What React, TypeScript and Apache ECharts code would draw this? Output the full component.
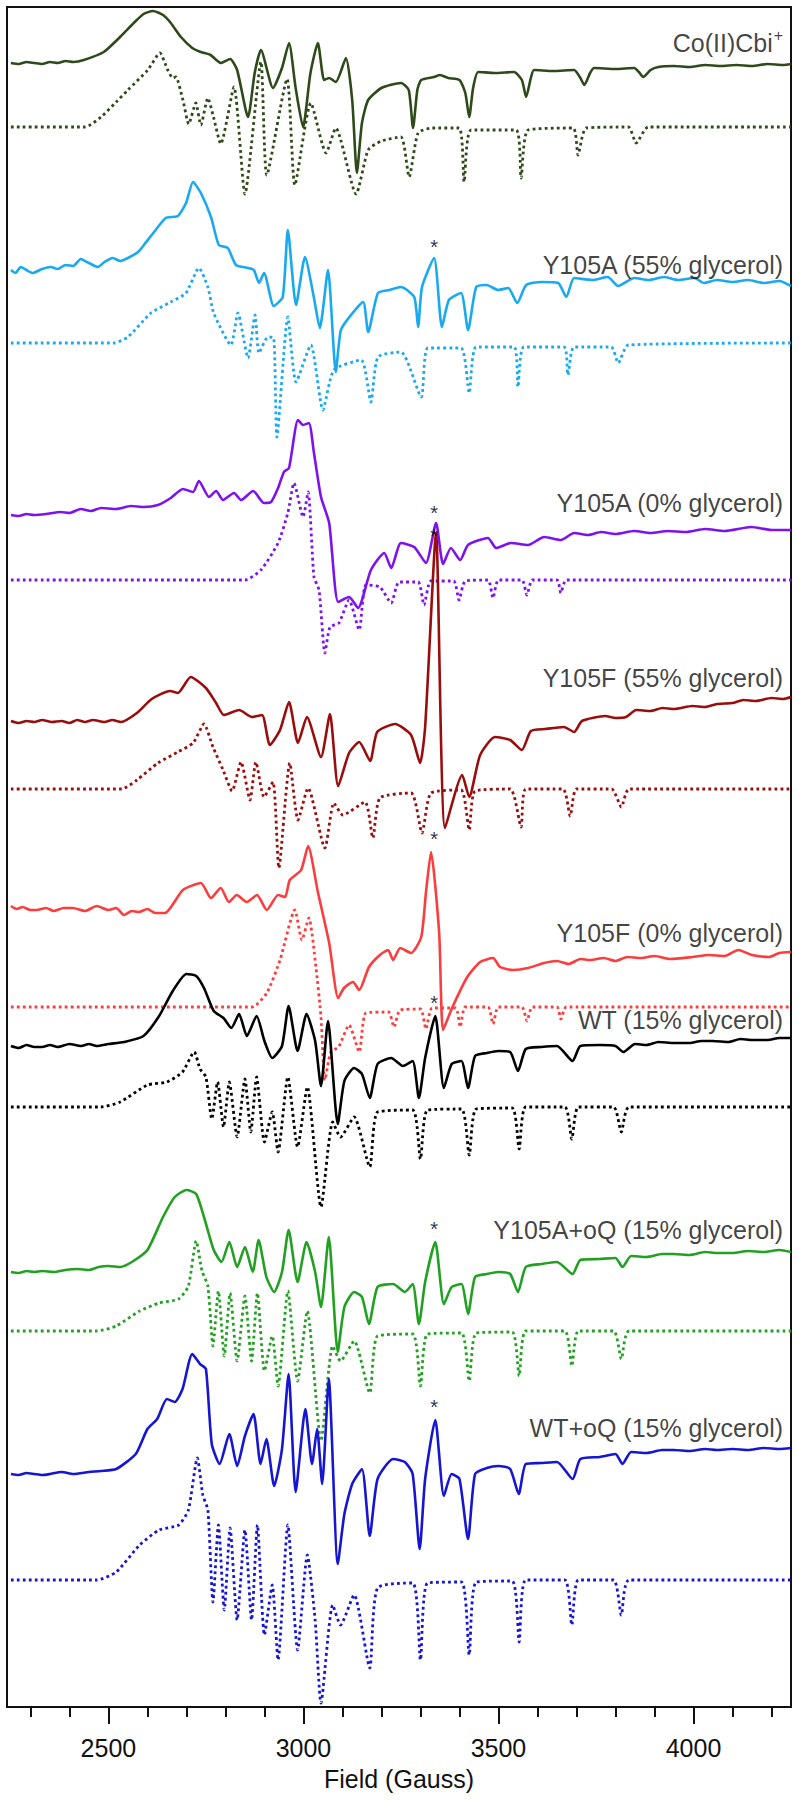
import React, { useEffect, useRef } from "react";
import * as echarts from "echarts";

// ---------- axis ----------
const FIELD_MIN = 2240;
const FIELD_MAX = 4250;
const majorTicks = [2500, 3000, 3500, 4000];
const minorTicks = [2300, 2400, 2600, 2700, 2800, 2900, 3100, 3200, 3300, 3400, 3600, 3700, 3800, 3900, 4100, 4200];

// ---------- traces (field in Gauss, intensity in arbitrary units, + up) ----------
const traceLabels = [
  "Co(II)Cbi",
  "Y105A (55% glycerol)",
  "Y105A (0% glycerol)",
  "Y105F (55% glycerol)",
  "Y105F (0% glycerol)",
  "WT (15% glycerol)",
  "Y105A+oQ (15% glycerol)",
  "WT+oQ (15% glycerol)",
];
const traceColors = ["#2f4a1a", "#19a9f0", "#7d12ee", "#9a0d0d", "#fb3d3d", "#000000", "#21a021", "#1616d2"];
const expOffsets = [1644, 1437, 1192, 986, 801, 661, 435, 233];
const simOffsets = [1580, 1364, 1127, 918, 700, 600, 376, 127];
const labelValues = [1664, 1442, 1204, 1029, 774, 687, 477, 279];
const asteriskValues = [null, 1460, 1194, 1171, 868, 704, 478, 300];

const coExp = [[2250,0],[2270,-1],[2290,1],[2310,0],[2330,-1],[2350,1],[2370,0],[2390,2],[2410,1],[2437,3],[2488,11],[2530,26],[2565,40],[2590,49],[2614,52],[2640,48],[2660,40],[2686,26],[2715,15],[2737,11],[2762,8],[2788,0],[2812,4],[2830,-7],[2858,-54],[2875,-10],[2891,13],[2922,-25],[2945,-5],[2963,20],[2980,-25],[2999,-64],[3018,-10],[3037,20],[3053,-17],[3066,-15],[3083,-19],[3109,5],[3125,-37],[3137,-110],[3150,-60],[3166,-37],[3200,-25],[3250,-20],[3270,-27],[3281,-65],[3292,-27],[3302,-17],[3335,-14],[3350,-12],[3371,-15],[3400,-17],[3415,-30],[3425,-54],[3435,-25],[3448,-9],[3490,-10],[3540,-9],[3560,-17],[3571,-34],[3583,-15],[3591,-7],[3640,-8],[3694,-7],[3710,-15],[3720,-22],[3735,-10],[3745,-5],[3800,-6],[3848,-5],[3860,-9],[3871,-14],[3890,-7],[3910,-4],[3950,-3],[3990,-4],[4030,-2],[4070,-3],[4110,-2],[4150,-3],[4190,-1],[4230,-2],[4250,-1]];
const coSim = [[2250,0],[2440,0],[2481,10],[2520,25],[2550,37],[2601,57],[2632,74],[2652,57],[2665,49],[2673,50],[2691,27],[2706,3],[2724,24],[2737,2],[2755,29],[2770,9],[2788,-17],[2822,40],[2850,-67],[2891,65],[2906,-48],[2958,48],[2978,-58],[3019,24],[3058,-26],[3083,-1],[3135,-67],[3166,-23],[3200,-14],[3250,-10],[3271,-50],[3294,-6],[3330,-1],[3399,-1],[3412,-55],[3430,-3],[3545,-3],[3558,-51],[3576,-3],[3691,-1],[3704,-28],[3725,-1],[3833,0],[3853,-16],[3884,0],[4250,0]];

const y105a55Exp = [[2250,0],[2262,-3],[2275,3],[2290,0],[2306,-3],[2330,1],[2352,3],[2370,1],[2390,5],[2410,4],[2429,11],[2450,7],[2473,3],[2490,8],[2511,12],[2530,9],[2550,12],[2576,18],[2591,25],[2617,38],[2647,52],[2678,54],[2699,67],[2717,88],[2737,77],[2763,53],[2783,25],[2806,22],[2827,5],[2858,2],[2873,0],[2886,-13],[2899,-3],[2924,-36],[2947,-27],[2960,40],[2981,-35],[3004,13],[3027,-28],[3042,-58],[3063,0],[3083,-102],[3096,-60],[3122,-45],[3153,-32],[3166,-62],[3191,-23],[3220,-20],[3250,-17],[3284,-27],[3294,-57],[3304,-17],[3335,12],[3355,-57],[3373,-30],[3404,-23],[3422,-60],[3443,-17],[3470,-15],[3499,-20],[3525,-18],[3548,-33],[3571,-15],[3610,-12],[3653,-13],[3674,-27],[3694,-8],[3740,-10],[3780,-7],[3807,-16],[3848,-8],[3885,-10],[3925,-7],[3960,-10],[4002,-8],[4027,-13],[4060,-10],[4100,-12],[4140,-10],[4180,-13],[4220,-11],[4250,-16]];
const y105a55Sim = [[2250,0],[2514,0],[2550,6],[2609,30],[2660,41],[2699,50],[2732,75],[2755,56],[2770,30],[2814,-2],[2832,30],[2858,-15],[2876,28],[2886,-10],[2909,6],[2924,5],[2932,-94],[2960,26],[2981,-39],[3019,-2],[3050,-67],[3078,-27],[3148,-17],[3173,-59],[3191,-14],[3250,-9],[3302,-54],[3319,-5],[3404,-5],[3425,-50],[3443,-4],[3540,-4],[3550,-44],[3565,-4],[3668,-4],[3678,-32],[3694,-4],[3789,-4],[3807,-20],[3833,-2],[4250,0]];

const y105a0Exp = [[2250,0],[2270,-1],[2290,1],[2309,0],[2340,1],[2378,3],[2400,2],[2429,6],[2455,4],[2481,7],[2520,6],[2558,9],[2590,8],[2627,10],[2660,17],[2691,26],[2717,23],[2732,34],[2758,18],[2776,24],[2794,15],[2822,22],[2840,15],[2871,24],[2899,12],[2917,13],[2935,27],[2950,43],[2963,47],[2986,95],[2999,90],[3014,92],[3027,62],[3045,18],[3066,-8],[3089,-87],[3117,-82],[3140,-93],[3173,-55],[3207,-38],[3225,-53],[3250,-28],[3284,-32],[3314,-48],[3340,-8],[3358,-49],[3378,-33],[3402,-45],[3422,-30],[3473,-23],[3494,-33],[3532,-28],[3576,-30],[3617,-22],[3660,-25],[3694,-18],[3730,-20],[3763,-17],[3800,-19],[3848,-16],[3890,-18],[3935,-16],[3980,-17],[4030,-14],[4080,-16],[4148,-12],[4200,-15],[4250,-15]];
const y105a0Sim = [[2250,0],[2850,0],[2891,10],[2935,37],[2960,67],[2976,97],[2999,63],[3012,88],[3027,3],[3040,-10],[3055,-73],[3068,-47],[3091,-43],[3117,-20],[3143,-50],[3160,-5],[3196,-7],[3225,-23],[3245,-2],[3294,-2],[3309,-25],[3327,-1],[3385,-1],[3399,-20],[3415,-1],[3473,0],[3486,-18],[3500,0],[3560,0],[3573,-15],[3587,0],[3650,0],[3660,-13],[3674,0],[4250,0]];

const y105f55Exp = [[2250,0],[2270,-2],[2290,0],[2310,-1],[2330,1],[2355,-1],[2380,0],[2400,-2],[2420,1],[2440,-1],[2460,1],[2490,-1],[2510,1],[2532,-1],[2573,8],[2611,22],[2658,30],[2678,28],[2711,44],[2750,33],[2776,18],[2796,6],[2835,11],[2868,4],[2894,6],[2914,-24],[2940,-9],[2963,19],[2986,-22],[3009,4],[3045,-36],[3068,7],[3089,-65],[3117,-32],[3143,-21],[3171,-40],[3189,-11],[3235,-3],[3276,-14],[3299,-42],[3312,-6],[3340,188],[3363,-107],[3407,-54],[3425,-76],[3453,-34],[3491,-16],[3530,-19],[3560,-29],[3583,-10],[3620,-8],[3668,-6],[3694,-11],[3714,0],[3774,5],[3800,3],[3827,4],[3853,11],[3890,10],[3920,13],[3950,12],[3997,15],[4030,14],[4060,17],[4100,18],[4128,21],[4160,20],[4200,23],[4230,22],[4250,24]];
const y105f55Sim = [[2250,0],[2534,0],[2573,9],[2627,26],[2678,37],[2717,46],[2745,65],[2768,42],[2794,19],[2817,-2],[2840,27],[2863,-11],[2878,27],[2899,-8],[2922,7],[2937,-79],[2965,26],[2986,-31],[3012,1],[3055,-59],[3078,-14],[3101,-26],[3158,-13],[3178,-49],[3196,-9],[3276,-4],[3304,-44],[3327,-4],[3404,-1],[3425,-41],[3440,-2],[3530,0],[3558,-38],[3570,0],[3665,0],[3684,-27],[3700,0],[3790,0],[3815,-18],[3835,0],[4250,0]];

const y105f0Exp = [[2250,0],[2265,-3],[2280,-1],[2300,-4],[2316,-4],[2340,-2],[2360,-5],[2385,-2],[2409,-2],[2440,-5],[2470,0],[2500,-4],[2520,-2],[2540,-9],[2560,-5],[2578,-6],[2600,-3],[2620,-7],[2645,-7],[2691,16],[2737,23],[2763,8],[2788,18],[2809,4],[2829,11],[2855,4],[2881,11],[2906,-4],[2935,11],[2953,9],[2965,26],[2994,36],[3012,60],[3037,14],[3066,-37],[3089,-92],[3104,-82],[3127,-76],[3143,-84],[3168,-61],[3196,-49],[3217,-44],[3230,-54],[3248,-42],[3276,-47],[3302,-31],[3314,13],[3327,54],[3348,-27],[3358,-124],[3381,-102],[3420,-71],[3453,-56],[3486,-52],[3504,-61],[3537,-64],[3576,-62],[3617,-57],[3650,-55],[3680,-58],[3710,-53],[3735,-54],[3770,-52],[3800,-55],[3830,-51],[3866,-52],[3900,-50],[3940,-53],[3997,-51],[4040,-49],[4080,-50],[4115,-44],[4150,-49],[4194,-51],[4220,-47],[4250,-46]];
const y105f0Sim = [[2250,0],[2868,0],[2906,14],[2940,47],[2978,97],[2996,67],[3014,89],[3032,40],[3045,-10],[3055,-73],[3070,-45],[3090,-40],[3117,-18],[3143,-45],[3160,-6],[3218,-5],[3232,-20],[3248,-3],[3300,-2],[3314,-22],[3330,-1],[3390,-1],[3402,-20],[3415,0],[3473,0],[3486,-17],[3500,0],[3560,0],[3573,-14],[3587,0],[3650,0],[3660,-12],[3674,0],[4250,0]];

const wtExp = [[2250,0],[2270,-2],[2290,1],[2310,-1],[2330,-1],[2350,1],[2370,-1],[2400,2],[2430,0],[2450,2],[2470,0],[2500,2],[2540,4],[2590,10],[2630,30],[2665,55],[2700,72],[2725,70],[2745,58],[2770,35],[2795,28],[2815,18],[2835,32],[2855,10],[2880,30],[2900,5],[2920,-12],[2945,0],[2962,40],[2985,-5],[3008,32],[3030,5],[3045,-40],[3063,25],[3088,-78],[3105,-35],[3130,-22],[3150,-28],[3170,-52],[3190,-18],[3225,-12],[3255,-20],[3280,-15],[3296,-52],[3312,-12],[3338,30],[3360,-42],[3380,-18],[3405,-15],[3422,-42],[3440,-10],[3470,-7],[3500,-5],[3530,-6],[3550,-25],[3570,-3],[3610,-1],[3650,0],[3690,-15],[3710,0],[3760,1],[3800,0],[3820,-6],[3850,2],[3880,1],[3910,4],[3950,3],[3990,3],[4020,5],[4050,5],[4090,4],[4120,7],[4150,6],[4190,6],[4220,8],[4250,8]];
const wtSim = [[2250,0],[2480,0],[2530,5],[2600,22],[2650,25],[2690,35],[2720,55],[2735,38],[2750,30],[2765,-12],[2780,25],[2795,-20],[2810,25],[2830,-30],[2850,28],[2865,-25],[2880,30],[2900,-35],[2920,-5],[2935,-45],[2960,30],[2985,-40],[3010,20],[3045,-100],[3075,-15],[3095,-30],[3130,-10],[3170,-60],[3190,-5],[3280,-3],[3300,-52],[3318,-3],[3405,-2],[3425,-48],[3443,-2],[3535,-1],[3553,-42],[3570,0],[3670,0],[3688,-32],[3705,0],[3795,0],[3815,-25],[3835,0],[4250,0]];

const aoqExp = [[2250,0],[2270,-1],[2290,1],[2310,0],[2330,1],[2360,0],[2390,2],[2420,3],[2450,2],[2475,5],[2500,6],[2530,5],[2560,10],[2600,22],[2640,55],[2670,75],[2700,82],[2725,78],[2745,55],[2770,22],[2790,10],[2810,30],[2830,5],[2850,25],[2870,0],[2885,32],[2905,-5],[2925,-20],[2945,0],[2962,42],[2985,-10],[3008,30],[3030,0],[3045,-35],[3065,35],[3088,-80],[3105,-35],[3130,-20],[3150,-25],[3168,-52],[3190,-15],[3230,-12],[3260,-20],[3280,-12],[3296,-52],[3312,-10],[3338,30],[3360,-32],[3380,-15],[3405,-12],[3422,-42],[3440,-5],[3470,-2],[3500,0],[3530,-2],[3550,-20],[3570,5],[3610,8],[3650,10],[3690,-2],[3710,12],[3760,13],[3800,14],[3818,5],[3840,16],[3880,15],[3920,18],[3950,18],[3990,17],[4030,20],[4060,19],[4100,19],[4140,21],[4180,20],[4220,22],[4250,20]];
const aoqSim = [[2250,0],[2470,0],[2520,5],[2580,20],[2630,28],[2680,32],[2705,45],[2725,90],[2740,60],[2755,45],[2768,-15],[2782,40],[2797,-25],[2812,38],[2830,-30],[2850,35],[2867,-30],[2882,38],[2900,-40],[2920,-5],[2935,-55],[2960,40],[2985,-50],[3010,20],[3045,-110],[3075,-15],[3095,-30],[3130,-10],[3170,-62],[3190,-5],[3280,-3],[3300,-55],[3318,-3],[3405,-2],[3425,-50],[3443,-2],[3535,-1],[3553,-45],[3570,0],[3670,0],[3688,-35],[3705,0],[3795,0],[3815,-28],[3835,0],[4250,0]];

const wtoqExp = [[2250,0],[2270,-1],[2290,1],[2310,0],[2330,-1],[2350,0],[2380,2],[2410,0],[2450,2],[2480,3],[2520,5],[2570,20],[2600,45],[2625,55],[2650,75],[2670,72],[2690,85],[2715,120],[2735,110],[2750,105],[2765,30],[2785,10],[2810,40],[2830,8],[2850,38],[2872,60],[2890,10],[2905,35],[2925,-12],[2945,25],[2962,100],[2980,-18],[3005,65],[3022,10],[3035,45],[3048,-10],[3065,95],[3088,-90],[3105,-40],[3125,-10],[3150,5],[3170,-62],[3190,-5],[3230,15],[3260,12],[3280,0],[3298,-75],[3312,-5],[3338,54],[3360,-22],[3380,0],[3400,-5],[3422,-65],[3440,0],[3470,6],[3500,8],[3530,5],[3552,-20],[3570,10],[3610,11],[3650,12],[3690,-5],[3710,15],[3760,17],[3800,20],[3818,10],[3840,22],[3880,21],[3920,24],[3950,24],[3990,23],[4030,25],[4060,24],[4100,25],[4140,24],[4180,26],[4220,25],[4250,26]];
const wtoqSim = [[2250,0],[2470,0],[2520,8],[2580,35],[2630,50],[2680,55],[2705,70],[2728,122],[2742,85],[2755,70],[2768,-22],[2782,55],[2797,-30],[2812,52],[2830,-40],[2850,50],[2867,-40],[2882,55],[2900,-55],[2920,-5],[2935,-80],[2960,55],[2985,-70],[3010,25],[3030,-40],[3045,-123],[3075,-25],[3095,-45],[3130,-15],[3170,-88],[3190,-8],[3280,-3],[3300,-80],[3318,-3],[3405,-2],[3425,-75],[3443,-2],[3535,-1],[3553,-62],[3570,0],[3670,0],[3688,-45],[3705,0],[3795,0],[3815,-35],[3835,0],[4250,0]];

const expTraces = [coExp, y105a55Exp, y105a0Exp, y105f55Exp, y105f0Exp, wtExp, aoqExp, wtoqExp];
const simTraces = [coSim, y105a55Sim, y105a0Sim, y105f55Sim, y105f0Sim, wtSim, aoqSim, wtoqSim];
const ASTERISK_FIELD = 3335;

const FONT = "'Liberation Sans', Arial, Helvetica, sans-serif";

export default function App() {
  const ref = useRef<HTMLDivElement>(null);
  useEffect(() => {
    if (!ref.current) return;
    const chart = echarts.init(ref.current, undefined, { renderer: "svg" });
    const series: any[] = [];
    expTraces.forEach((tr, i) => {
      series.push({
        type: "line",
        xAxisIndex: 0,
        yAxisIndex: 0,
        data: tr.map(([f, v]) => [f, expOffsets[i] + v]),
        showSymbol: false,
        smooth: 0.2,
        lineStyle: { color: traceColors[i], width: 2.6 },
        z: 3,
      });
    });
    simTraces.forEach((tr, i) => {
      series.push({
        type: "line",
        xAxisIndex: 0,
        yAxisIndex: 0,
        data: tr.map(([f, v]) => [f, simOffsets[i] + v]),
        showSymbol: false,
        smooth: 0.2,
        lineStyle: { color: traceColors[i], width: 2.8, type: [2.8, 3.2], cap: "butt" },
        z: 2,
      });
    });
    // trace labels
    series.push({
      type: "scatter",
      xAxisIndex: 0,
      yAxisIndex: 0,
      symbolSize: 1,
      itemStyle: { color: "rgba(0,0,0,0)" },
      data: traceLabels.map((t, i) => ({ value: [4231, labelValues[i]], name: t })),
      label: {
        show: true,
        position: "left",
        distance: 0,
        formatter: (p: any) => (p.dataIndex === 0 ? "{a|" + p.name + "}{s|+}" : p.name),
        color: "#111",
        fontSize: 25,
        fontFamily: FONT,
        rich: {
          a: { fontSize: 25, fontFamily: FONT, color: "#111" },
          s: { fontSize: 16, fontFamily: FONT, color: "#111", verticalAlign: "top", padding: [0, 0, 16, 1] },
        },
      },
      z: 5,
    });
    // asterisks
    series.push({
      type: "scatter",
      xAxisIndex: 0,
      yAxisIndex: 0,
      symbolSize: 1,
      itemStyle: { color: "rgba(0,0,0,0)" },
      data: asteriskValues.filter((v) => v !== null).map((v) => [ASTERISK_FIELD, v]),
      label: {
        show: true,
        position: "inside",
        formatter: "*",
        color: "#000",
        fontSize: 20,
        lineHeight: 14,
        fontFamily: FONT,
      },
      z: 6,
    });

    chart.setOption({
      animation: false,
      grid: { left: 7, right: 8, top: 7, bottom: 93, show: true, borderColor: "#111", borderWidth: 2, containLabel: false },
      xAxis: [
        {
          type: "value",
          min: FIELD_MIN,
          max: FIELD_MAX,
          position: "bottom",
          name: "Field (Gauss)",
          nameLocation: "middle",
          nameGap: 59,
          nameTextStyle: { fontSize: 25, fontFamily: FONT, color: "#111" },
          axisLine: { show: true, lineStyle: { color: "#111", width: 2 } },
          axisTick: { show: true, customValues: majorTicks, length: 17, lineStyle: { color: "#111", width: 2 } },
          axisLabel: { show: true, customValues: majorTicks, margin: 28, fontSize: 25, fontFamily: FONT, color: "#111", formatter: (v: number) => String(v) },
          splitLine: { show: false },
        },
        {
          type: "value",
          min: FIELD_MIN,
          max: FIELD_MAX,
          position: "bottom",
          axisLine: { show: false },
          axisTick: { show: true, customValues: minorTicks, length: 10, lineStyle: { color: "#111", width: 2 } },
          axisLabel: { show: false },
          splitLine: { show: false },
        },
      ],
      yAxis: { type: "value", min: 0, max: 1700, show: false },
      series,
    });
    return () => chart.dispose();
  }, []);
  return <div ref={ref} style={{ position: "absolute", left: 0, top: 0, width: 799, height: 1800, background: "#fff" }} />;
}
